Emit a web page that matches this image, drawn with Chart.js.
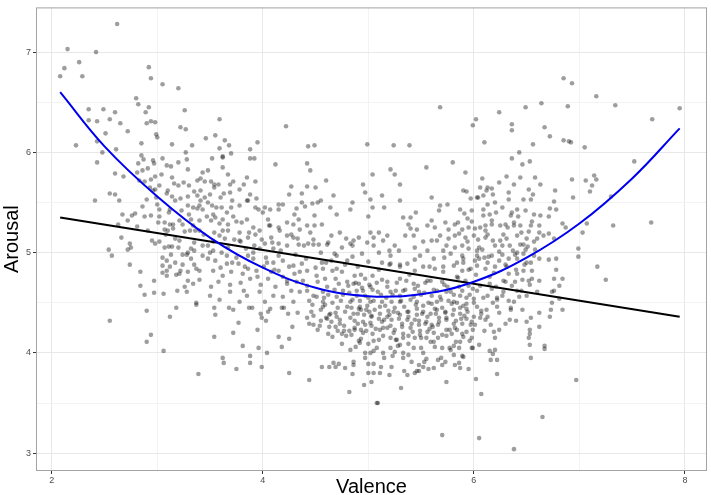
<!DOCTYPE html>
<html>
<head>
<meta charset="utf-8">
<script src="https://cdn.jsdelivr.net/npm/chart.js@4.4.0/dist/chart.umd.min.js"></script>
<style>
  html, body { margin: 0; padding: 0; background: #fff; }
  #wrap { width: 711px; height: 495px; }
</style>
</head>
<body>
<div id="wrap"><canvas id="chart" width="711" height="495"></canvas></div>
<script>
// Axis ticks (major labelled, minor only as grid lines)
const xMajor = [2, 4, 6, 8];
const xMinor = [3, 5, 7];
const yMajor = [3, 4, 5, 6, 7];
const yMinor = [3.5, 4.5, 5.5, 6.5];

// Linear fit (black) and quadratic fit (blue)
const linFitX = [2.08, 7.95];
const linFitY = [5.35, 4.36];
const quadFitX = [2.08, 2.5, 3.0, 3.5, 4.0, 4.5, 5.0, 5.5, 6.0, 6.5, 7.0, 7.5, 7.95];
const quadFitY = [6.60, 6.06, 5.56, 5.15, 4.85, 4.65, 4.565, 4.585, 4.71, 4.95, 5.29, 5.74, 6.24];

// [valence, arousal] per word
const ratings = [
[2.62,7.28],[2.15,7.03],[2.42,7.0],[2.26,6.9],[2.12,6.84],[2.08,6.76],[2.29,6.76],[2.92,6.85],[2.94,6.74],[3.05,6.68],[3.2,6.64],[2.8,6.54],[2.82,6.48],[2.92,6.45],[2.89,6.4],[3.26,6.42],[2.35,6.43],[2.49,6.43],[2.6,6.4],[2.35,6.32],[2.43,6.31],[2.55,6.33],[2.65,6.29],[2.9,6.29],[2.94,6.31],[2.98,6.3],[2.51,6.19],[2.72,6.21],[2.99,6.18],[3.0,6.15],[3.22,6.25],[3.27,6.23],[3.46,6.14],[2.23,6.07],[2.43,6.11],[2.85,6.09],[3.14,6.08],[3.33,6.07],[2.48,6.0],[2.61,6.03],[3.27,6.0],[2.85,5.97],
[3.59,6.33],[3.55,6.17],[3.64,6.12],[3.68,6.07],[3.59,6.04],[3.7,5.99],[3.88,6.03],[3.95,6.1],[4.22,6.26],[4.43,6.06],[4.49,6.07],[4.99,6.08],[3.62,5.96],
[5.68,6.45],[5.24,6.07],[5.39,6.07],[6.02,6.33],[5.99,6.27],[6.1,6.1],[6.24,6.4],[6.36,6.28],[6.36,6.22],[6.49,6.45],[6.64,6.49],[6.67,6.25],[6.56,6.08],[6.43,6.0],
[6.85,6.74],[6.93,6.69],[7.16,6.56],[6.89,6.46],[7.34,6.47],[7.69,6.33],[7.95,6.44],[6.72,6.16],[6.85,6.12],[6.9,6.11],[6.92,6.1],[7.05,6.05],
[7.52,5.91],[7.14,5.77],[7.16,5.73],[7.12,5.67],[7.06,5.72],[6.93,5.73],[7.1,5.61],[6.94,5.55],[7.3,5.56],[6.77,5.62],[6.76,5.51],[6.72,5.44],[6.78,5.43],[6.71,5.36],[6.84,5.29],[6.87,5.25],[7.07,5.29],[7.32,5.27],[7.68,5.3],[6.71,5.19],[6.76,5.14],[7.03,5.2],[6.99,5.04],[6.99,4.96],[6.71,4.93],[6.78,4.94],[7.17,4.86],[6.78,4.83],[6.76,4.74],[6.84,4.74],[7.25,4.73],[6.81,4.67],[6.76,4.62],[6.74,4.61],[6.74,4.5],[6.81,4.54],
[6.73,4.43],[6.84,4.43],[6.72,4.36],[6.97,3.73],
[2.55,4.32],[2.9,4.42],[3.18,4.45],[3.12,4.36],[2.94,4.18],[2.9,4.11],[3.06,4.02],[3.39,3.79],[3.37,4.48],
[3.54,4.45],[3.68,4.45],[3.72,4.43],[3.87,4.45],[4.07,4.44],[4.18,4.45],[3.55,4.38],[3.77,4.3],[3.98,4.39],[3.99,4.35],[4.03,4.32],[4.24,4.39],[3.95,4.23],[3.72,4.2],[3.54,4.16],[4.15,4.16],[4.25,4.14],[4.28,4.26],[3.81,4.07],[3.96,4.05],[4.18,4.06],[4.04,4.0],[3.62,3.95],[3.88,3.97],[3.63,3.9],[3.88,3.9],[3.99,3.86],[3.75,3.84],[4.25,3.8],[4.44,3.73],[4.56,3.86],[4.63,3.86],[4.67,3.9],[4.69,3.86],[4.72,3.89],[4.78,3.85],[4.86,3.91],[4.86,3.88],[4.85,3.79],[4.82,3.61],[4.96,3.68],[5.03,3.71],[5.0,3.8],[5.05,3.8],[5.0,3.89],[5.05,3.89],[4.97,3.95],[4.97,4.0],[5.02,4.0],[4.83,4.03],[4.88,4.06],[4.75,4.09],[5.08,3.5],
[4.42,4.35],[4.44,4.29],[4.48,4.37],[4.48,4.28],[4.52,4.23],[4.55,4.32],[4.57,4.46],[4.6,4.35],[4.61,4.34],[4.64,4.39],[4.69,4.4],[4.63,4.26],[4.62,4.19],[4.66,4.16],[4.69,4.26],[4.71,4.22],[4.73,4.33],[4.75,4.19],[4.79,4.17],[4.77,4.22],[4.82,4.22],[4.84,4.45],[4.87,4.32],[4.9,4.39],[4.92,4.46],[4.93,4.43],[4.93,4.23],[4.93,4.14],[4.97,4.28],[4.98,4.43],[5.01,4.41],[5.03,4.37],[5.03,4.27],[5.04,4.19],[5.0,4.09],[5.05,4.12],[4.87,4.23],[4.95,4.2],[4.91,4.12],
[5.2,3.78],[5.31,3.65],[5.09,3.5],[5.74,3.71],[6.02,3.74],[6.07,3.59],[5.7,3.18],[6.05,3.15],[6.38,3.04],[6.65,3.36],[6.22,3.79],[6.54,3.95],[6.53,4.08],[6.52,4.15],[6.53,4.23],[6.53,4.19],[6.62,4.26],[6.67,4.07],[6.67,4.04],[6.62,4.4],[6.54,4.35],[6.5,4.31],[6.46,4.43],[6.4,4.32],[6.34,4.33],[6.35,4.43],[6.3,4.29],[6.24,4.23],[6.2,4.15],[6.2,4.03],[6.16,3.93],[6.22,3.93],[6.15,4.02],[6.19,4.21],[6.16,4.28],[6.1,4.22],[6.13,4.36],[6.11,4.33],[6.07,4.39],[6.0,4.36],[6.01,4.28],[5.99,4.23],[5.96,4.12],[5.99,4.05],[5.89,3.97],[5.86,3.9],[5.82,3.88],[5.87,3.85],[5.81,3.98],[5.73,3.91],[5.69,3.95],[5.62,3.85],[5.57,3.84],[5.55,3.94],[5.53,3.91],[5.48,3.88],[5.52,3.86],[5.46,3.82],[5.44,3.8],[5.37,3.78],[5.34,3.82],[5.41,3.91],[5.33,3.95],[5.23,3.97],[5.12,3.86],[5.11,3.8],[5.08,4.05],[5.14,4.0],[5.21,4.05],[5.25,4.01],[5.33,4.0],[5.3,4.08],[5.43,4.05],[5.5,4.05],[5.55,4.15],[5.59,4.11],[5.63,4.06],[5.7,4.05],[5.77,4.05],[5.81,4.07],[5.87,4.11],[5.83,4.11],[5.9,4.16],[5.98,4.05],[5.98,4.15],[5.93,4.21],[5.89,4.19],[5.84,4.23],[5.79,4.19],[5.74,4.23],[5.7,4.18],[5.66,4.15],[5.62,4.2],[5.56,4.21],[5.49,4.18],[5.44,4.15],[5.38,4.17],[5.33,4.15],[5.27,4.13],[5.21,4.15],[5.14,4.17],[5.1,4.13],[5.11,4.23],[5.18,4.25],[5.25,4.23],[5.32,4.26],[5.4,4.25],[5.48,4.28],[5.54,4.29],[5.6,4.28],[5.67,4.31],[5.74,4.33],[5.81,4.29],[5.89,4.29],[5.93,4.34],[5.87,4.39],[5.81,4.43],[5.73,4.41],[5.65,4.43],[5.59,4.39],[5.52,4.41],[5.46,4.38],[5.38,4.41],[5.3,4.38],[5.24,4.41],[5.18,4.36],[5.11,4.39],[5.13,4.31],[5.22,4.33],[5.37,4.33],[5.44,4.33],[5.93,4.44],[6.03,4.46],[6.22,4.46],
[2.43,5.9],[2.6,5.79],[2.68,5.76],[2.41,5.52],[2.55,5.59],[2.6,5.58],[2.64,5.52],[2.82,5.89],[2.87,5.93],[2.96,5.92],[2.97,5.89],[3.05,5.94],[3.09,5.87],[3.13,5.86],[3.2,5.9],[3.28,5.93],[2.81,5.8],[2.86,5.82],[2.91,5.84],[2.83,5.72],[2.88,5.71],[2.94,5.73],[2.98,5.76],[2.93,5.65],[2.9,5.53],[2.98,5.63],[2.99,5.55],[3.02,5.67],[3.09,5.59],[3.14,5.75],[3.16,5.69],[3.22,5.54],[3.17,5.52],[3.29,5.83],[3.3,5.67],[3.35,5.61],[3.38,5.57],[3.41,5.52],[3.43,5.8],[3.41,5.74],[3.45,5.71],[3.29,5.47],[3.34,5.45],[3.4,5.47],[3.43,5.43],[3.12,5.43],[3.02,5.43],[2.67,5.38],[2.76,5.37],[2.79,5.39],[2.88,5.36],[2.94,5.37],[2.63,5.28],[2.72,5.32],[2.81,5.26],[3.02,5.36],[3.07,5.3],[3.07,5.23],[3.1,5.22],[3.12,5.28],[3.15,5.24],[3.21,5.32],[3.24,5.28],[3.34,5.27],[3.4,5.32],[3.36,5.22],[3.31,5.22],[2.66,5.15],[2.54,5.03],[2.57,4.97],[2.72,5.03],[2.75,5.05],[2.74,5.09],[2.74,4.88],[2.84,4.81],[2.98,5.09],[3.02,5.11],[3.11,5.06],[3.14,5.06],[3.21,5.12],[3.24,4.98],[3.29,5.0],[3.32,5.04],[3.35,5.1],[3.43,5.07],[3.13,4.98],[3.09,4.92],[3.05,4.87],[3.09,4.82],[3.05,4.8],[3.12,4.86],[3.17,4.9],[3.24,4.88],[3.22,4.82],[3.21,4.79],[3.29,4.81],[3.32,4.94],[3.37,4.84],[3.4,4.82],[3.43,4.97],[3.4,4.73],[3.34,4.69],[3.29,4.72],[3.09,4.77],[2.97,4.72],[2.84,4.67],[2.88,4.58],[2.97,4.6],[3.06,4.59],[3.19,4.62],[3.26,4.66],[3.28,4.61],[3.37,4.5],
[3.52,5.94],[3.62,5.95],[3.88,5.94],[3.92,5.94],[4.12,5.88],[4.42,5.89],[4.45,5.82],[5.04,5.78],[3.62,5.85],[3.51,5.71],[3.54,5.68],[3.54,5.65],[3.67,5.78],[3.72,5.71],[3.69,5.68],[3.82,5.68],[3.85,5.75],[3.93,5.71],[3.78,5.63],[3.69,5.6],[3.6,5.55],[3.48,5.5],[3.52,5.47],[3.61,5.45],[3.71,5.52],[3.78,5.47],[3.86,5.52],[3.88,5.58],[3.94,5.54],[3.93,5.45],[3.96,5.43],[4.02,5.45],[4.07,5.43],[4.15,5.43],[4.19,5.48],[4.27,5.66],[4.42,5.66],[4.5,5.65],[4.37,5.59],[4.32,5.44],[4.37,5.5],[4.47,5.49],[4.52,5.5],[4.64,5.45],[4.67,5.57],[4.83,5.43],[4.97,5.6],[5.02,5.53],[5.04,5.45],[3.53,5.38],[3.62,5.33],[3.72,5.36],[3.8,5.3],[3.85,5.33],[3.67,5.28],[3.51,5.32],[3.54,5.2],[3.67,5.22],[3.78,5.2],[3.91,5.25],[3.97,5.22],[4.05,5.33],[4.06,5.27],[4.15,5.25],[4.16,5.22],[4.08,5.15],[4.23,5.3],[4.29,5.28],[4.34,5.33],[4.35,5.23],[4.42,5.27],[4.49,5.37],[4.49,5.27],[4.56,5.28],[4.65,5.17],[4.73,5.2],[4.79,5.14],[4.83,5.09],[4.85,5.07],[4.91,5.15],[4.99,5.1],[5.02,5.2],[5.05,5.07],[4.23,5.17],[4.29,5.15],[4.23,5.07],[4.34,5.08],[4.43,5.09],[4.48,5.08],[4.53,5.08],[4.61,5.08],[4.68,4.99],[3.59,5.17],[3.64,5.14],[3.73,5.13],[3.78,5.12],[3.86,5.15],[3.92,5.07],[4.02,5.09],[3.97,5.04],[4.1,5.04],[3.48,5.07],[3.53,5.02],[3.61,5.0],[3.66,4.97],[3.66,4.89],[3.55,4.92],[3.48,4.94],[3.75,4.95],[3.77,4.89],[3.86,4.97],[3.91,4.94],[3.94,4.82],[3.86,4.84],[3.81,4.79],[3.7,4.81],[3.62,4.77],[3.53,4.82],[3.58,4.71],[3.69,4.68],[3.79,4.7],[3.88,4.74],[4.04,4.9],[4.1,4.9],[4.15,4.97],[4.08,4.81],[4.05,4.74],[4.15,4.82],[4.19,4.76],[4.29,4.87],[4.37,4.89],[4.42,4.82],[4.3,4.79],[4.23,4.69],[4.32,4.71],[4.42,4.67],[4.51,4.77],[4.57,4.84],[4.59,4.74],[4.66,4.82],[4.75,4.81],[4.72,4.69],[4.8,4.71],[4.86,4.69],[4.91,4.69],[4.87,4.77],[4.97,4.74],[5.04,4.77],[5.02,4.66],[4.95,4.62],[4.76,4.62],[4.57,4.61],[4.48,4.57],[4.35,4.61],[4.19,4.56],[4.1,4.57],[3.97,4.61],[3.85,4.57],[3.69,4.61],[3.59,4.53],[3.78,4.51],[4.02,4.51],[4.29,4.51],[4.57,4.51],[4.83,4.51],[5.02,4.51],[4.89,4.57],[4.7,4.56],[3.51,4.66],[3.5,4.57],
[6.36,5.94],[6.46,5.88],[6.53,5.91],[5.21,5.83],[5.3,5.68],[5.13,5.57],[5.92,5.8],[6.08,5.74],[6.31,5.76],[6.58,5.75],[6.38,5.68],[6.52,5.63],[6.63,5.68],[5.93,5.61],[6.06,5.65],[6.13,5.65],[6.17,5.64],[6.09,5.57],[6.18,5.58],[5.97,5.54],[6.03,5.55],[6.47,5.53],[6.54,5.53],[6.33,5.53],[6.2,5.5],[6.13,5.48],[5.68,5.47],[5.67,5.42],[5.87,5.43],[5.91,5.39],[5.94,5.34],[5.98,5.42],[6.09,5.37],[6.15,5.38],[6.09,5.43],[6.27,5.45],[6.36,5.4],[6.35,5.37],[6.41,5.43],[6.49,5.42],[6.57,5.38],[6.63,5.37],[6.62,5.27],[6.54,5.27],[6.44,5.27],[6.38,5.27],[6.3,5.28],[6.25,5.27],[6.17,5.28],[6.11,5.27],[6.06,5.25],[6.01,5.24],[5.95,5.25],[5.89,5.23],[5.82,5.28],[5.76,5.23],[5.73,5.3],[5.63,5.25],[5.6,5.32],[5.56,5.27],[5.46,5.23],[5.4,5.35],[5.33,5.35],[5.38,5.28],[5.1,5.2],[5.18,5.17],[5.35,5.17],[5.43,5.17],[5.52,5.11],[5.6,5.12],[5.68,5.17],[5.76,5.14],[5.82,5.17],[5.92,5.15],[6.0,5.17],[6.11,5.15],[6.2,5.07],[6.27,5.07],[6.31,5.14],[6.41,5.17],[6.5,5.14],[6.44,5.08],[6.57,5.11],[6.66,5.17],[5.14,5.12],[5.25,5.07],[5.44,5.05],[5.74,5.07],[5.89,5.07],[5.95,5.04],[6.03,5.02],[5.1,5.0],[5.21,4.97],[5.29,5.02],[5.37,4.89],[5.49,4.97],[5.56,5.02],[5.62,4.94],[5.71,5.02],[5.78,4.99],[5.89,4.97],[5.9,4.94],[6.03,4.97],[6.05,4.94],[6.13,4.9],[6.17,4.97],[6.24,4.92],[6.33,4.94],[6.41,4.94],[6.47,4.99],[6.54,4.9],[6.62,4.94],[6.55,4.82],[6.47,4.82],[6.41,4.79],[6.33,4.79],[6.62,4.72],[6.52,4.72],[6.39,4.71],[6.28,4.72],[6.19,4.8],[6.11,4.84],[6.03,4.87],[5.97,4.84],[5.89,4.82],[5.81,4.87],[5.71,4.86],[5.63,4.84],[5.52,4.86],[5.44,4.82],[5.3,4.86],[5.21,4.89],[5.13,4.9],[5.18,4.71],[5.3,4.74],[5.43,4.69],[5.56,4.72],[5.7,4.71],[5.84,4.76],[5.95,4.67],[6.06,4.67],[6.17,4.64],[6.28,4.61],[6.41,4.62],[6.5,4.57],[6.6,4.61],[5.21,4.61],[5.33,4.62],[5.48,4.61],[5.6,4.57],[5.74,4.61],[5.87,4.57],[6.0,4.54],[6.13,4.57],[6.22,4.53],[5.13,4.51],[5.3,4.51],[5.46,4.51],[5.65,4.51],[5.81,4.51],[5.93,4.49],[6.38,4.51],
[4.42,4.62],[4.47,4.48],[4.52,4.71],[4.55,4.43],[4.58,4.55],[4.61,4.66],[4.63,4.38],[4.66,4.5],[4.69,4.74],[4.71,4.45],[4.73,4.29],[4.76,4.58],[4.78,4.41],[4.81,4.67],[4.83,4.35],[4.85,4.53],[4.87,4.25],[4.89,4.62],[4.91,4.44],[4.93,4.78],[4.95,4.31],[4.97,4.57],[4.99,4.47],[5.01,4.68],[5.03,4.36],[5.05,4.52],[5.07,4.24],[5.09,4.61],[5.11,4.46],[5.13,4.73],[5.15,4.33],[5.17,4.55],[5.19,4.42],[4.5,4.85],[4.6,4.9],[4.7,4.84],[4.8,4.92],[4.9,4.86],[5.0,4.91],[5.1,4.83],[5.2,4.88],
[5.21,4.27],[5.23,4.58],[5.25,4.45],[5.27,4.7],[5.29,4.34],[5.31,4.52],[5.33,4.19],[5.35,4.63],[5.37,4.41],[5.39,4.78],[5.41,4.29],[5.43,4.56],[5.45,4.48],[5.47,4.67],[5.49,4.22],[5.51,4.39],[5.53,4.6],[5.55,4.31],[5.57,4.5],[5.59,4.72],[5.61,4.26],[5.63,4.44],[5.65,4.62],[5.67,4.35],[5.69,4.53],[5.71,4.81],[5.73,4.4],[5.75,4.66],[5.77,4.23],[5.79,4.49],[5.81,4.58],[5.83,4.32],[5.85,4.75],[5.87,4.45],[5.89,4.62],[5.91,4.37],[5.93,4.55],[5.95,4.83],[5.97,4.28],[5.99,4.64],[5.26,4.13],[5.38,4.09],[5.5,4.15],[5.62,4.11],[5.74,4.17],[5.86,4.05],[5.3,4.88],[5.44,4.93],[5.58,4.86],[5.72,4.95],[5.84,4.9],
[6.02,4.78],[6.05,5.05],[6.07,4.42],[6.1,4.95],[6.13,5.18],[6.15,4.69],[6.17,5.32],[6.2,4.86],[6.22,4.55],[6.25,5.12],[6.27,4.98],[6.3,4.71],[6.32,5.25],[6.35,4.45],[6.37,5.02],[6.4,4.83],[6.42,5.36],[6.45,4.62],[6.47,5.08],[6.5,4.9],[6.52,5.21],[6.55,4.74],[6.57,4.97],[6.6,5.14],[6.04,5.55],[6.12,5.62],[6.24,5.7],[6.33,5.6],[6.44,5.75],[6.56,5.58],
[3.62,5.22],[3.67,5.05],[3.71,4.9],[3.75,5.31],[3.79,5.11],[3.83,4.86],[3.87,5.2],[3.91,5.0],[3.95,4.76],[3.99,5.13],[4.03,4.95],[4.07,5.27],[4.11,4.83],[4.15,5.09],[4.19,4.92],[4.23,4.72],[4.27,5.18],[4.31,4.98],[4.35,4.81],[4.39,5.07],[3.7,5.45],[3.85,5.52],[4.0,5.4],[4.15,5.48],[4.3,5.38],[4.45,5.2],[4.55,5.0],[4.65,4.92],[4.75,5.05],[4.85,4.96],
[2.95,5.12],[3.0,5.48],[3.05,4.95],[3.1,5.62],[3.15,5.28],[3.2,5.05],[3.25,5.7],[3.3,5.38],[3.35,4.88],[3.4,5.22],[3.45,5.55],[3.5,5.0],[3.55,5.35],[3.6,4.85],[3.58,5.68],[3.48,5.82],[3.38,5.72],[3.28,4.98],[3.18,4.78],[3.08,5.18],
[4.25,5.58],[4.4,5.46],[4.55,5.52],[4.7,5.38],[4.85,5.5],[5.0,5.36],[5.15,5.45],[5.3,5.52],[5.45,5.4],[5.6,5.55],[5.75,5.48],[5.9,5.62],[4.6,5.72],[4.95,5.68],[5.25,5.78],[5.55,5.85],[5.8,5.9],[5.05,5.15],[5.2,5.02],[5.4,5.24],[5.65,5.12],[5.85,5.3],
[4.92,4.1],[5.05,4.02],[5.15,3.95],[5.28,4.07],[5.38,3.98],[5.52,4.0],[5.66,3.93],[5.78,4.03],[5.9,3.96],[6.05,4.08],[6.18,3.99],[5.22,3.86],[5.48,3.82],[5.7,3.88],[5.95,3.84],
[4.46,4.41],[4.51,4.56],[4.54,4.27],[4.59,4.48],[4.62,4.58],[4.65,4.31],[4.68,4.63],[4.7,4.36],[4.74,4.52],[4.77,4.27],[4.8,4.46],[4.82,4.6],[4.84,4.18],[4.86,4.39],[4.88,4.7],[4.9,4.29],[4.92,4.52],[4.94,4.65],[4.96,4.38],[4.98,4.22],[5.0,4.55],[5.02,4.3],[5.04,4.63],[5.06,4.43],[5.08,4.7],[5.1,4.34],[5.12,4.58],[5.14,4.25],[5.16,4.47],[5.18,4.66],[5.2,4.38],[5.22,4.51],[5.24,4.2],[5.26,4.62],[5.28,4.4],[5.3,4.57],[5.32,4.29],[5.34,4.46],[5.36,4.72],[5.38,4.36],[5.4,4.53],[5.42,4.21],[5.44,4.64],[5.46,4.44],[5.48,4.32],[5.5,4.58],[5.52,4.47],[5.54,4.7],[5.56,4.36],[5.58,4.24],[5.6,4.49],[5.62,4.63],[5.64,4.39],[5.66,4.28],[5.68,4.56],[5.7,4.45],[5.72,4.68],[5.74,4.35],[5.76,4.52],[5.78,4.61],[5.8,4.38],[5.82,4.25],[5.84,4.5],[5.86,4.66],[5.88,4.34],[5.9,4.47],[5.92,4.72],[5.94,4.41],[5.96,4.58],[5.98,4.31],[6.0,4.5],[6.03,4.62],[6.06,4.35],[6.09,4.55],[6.12,4.43],[6.15,4.76],[6.18,4.5],[6.21,4.66],[6.24,4.4],[6.27,4.57],[6.3,4.88],[6.33,4.52],[6.36,4.67],[6.39,4.98],[6.43,4.56],[6.46,4.73],[6.49,5.03],[6.53,4.68],
[5.82,5.05],[5.86,5.19],[5.9,4.9],[5.94,5.11],[5.98,5.31],[6.01,4.92],[6.04,5.13],[6.08,5.03],[6.11,5.22],[6.14,4.96],[6.18,5.12],[6.21,5.4],[6.24,5.01],[6.28,5.18],[6.31,4.86],[6.34,5.07],[6.38,5.3],[6.41,5.0],[6.45,5.2],[6.48,4.88],[6.51,5.06],[6.55,5.31],[6.58,5.03],[6.62,5.2],
[2.86,5.46],[2.91,5.22],[2.96,5.62],[3.01,5.3],[3.04,5.78],[3.07,5.05],[3.11,5.4],[3.14,5.56],[3.17,5.14],[3.2,5.67],[3.23,5.42],[3.26,5.21],[3.29,5.56],[3.32,5.33],[3.35,5.02],[3.38,5.44],[3.41,5.62],[3.44,5.18],[3.47,5.36],[3.5,5.58],[3.53,5.11],[3.56,5.45],[3.59,5.29],[3.63,5.59],[3.66,5.4],
[3.82,4.62],[3.9,4.45],[3.98,4.68],[4.05,4.41],[4.12,4.66],[4.2,4.45],[4.27,4.62],[4.33,4.4],[4.38,4.72],[4.44,4.52],[3.84,5.04],[3.93,5.18],[4.01,4.86],[4.09,5.1],[4.17,5.02],[4.25,4.86],[4.33,5.14],[4.41,4.94],[4.48,5.13],[4.56,4.9],[4.62,5.1],[4.7,4.97],[4.78,4.88],[4.86,5.12],[4.94,4.99]
];

const xTicks = [...xMajor, ...xMinor].sort((a, b) => a - b);
const yTicks = [...yMajor, ...yMinor].sort((a, b) => a - b);

// panel border like ggplot theme_bw
const panelBorder = {
    id: 'panelBorder',
    afterDatasetsDraw(chart) {
        const { ctx, chartArea: a } = chart;
        ctx.save();
        ctx.strokeStyle = '#a3a3a3';
        ctx.lineWidth = 1;
        ctx.strokeRect(a.left + 0.5, a.top + 0.5, a.right - a.left - 1, a.bottom - a.top - 1);
        ctx.restore();
    }
};

const gridColor = (major) => (c) => major.includes(c.tick.value) ? '#e8e8e8' : '#f3f3f3';
const tickColor = (major) => (c) => major.includes(c.tick.value) ? '#333333' : 'rgba(0,0,0,0)';

new Chart(document.getElementById('chart').getContext('2d'), {
    data: {
        datasets: [
            {
                type: 'line',
                label: 'quadratic',
                data: quadFitX.map((x, i) => ({ x, y: quadFitY[i] })),
                borderColor: '#0000ee',
                borderWidth: 2,
                pointRadius: 0,
                tension: 0.4,
                fill: false,
                order: 0
            },
            {
                type: 'line',
                label: 'linear',
                data: linFitX.map((x, i) => ({ x, y: linFitY[i] })),
                borderColor: '#000000',
                borderWidth: 2,
                pointRadius: 0,
                fill: false,
                order: 1
            },
            {
                type: 'scatter',
                label: 'words',
                data: ratings.map(([x, y]) => ({ x, y })),
                backgroundColor: 'rgba(0,0,0,0.38)',
                borderWidth: 0,
                pointRadius: 2.3,
                order: 2
            }
        ]
    },
    plugins: [panelBorder],
    options: {
        responsive: false,
        devicePixelRatio: 1,
        animation: false,
        layout: { padding: { top: 5, right: 2, left: 0, bottom: 0 } },
        plugins: {
            legend: { display: false },
            tooltip: { enabled: false }
        },
        scales: {
            x: {
                type: 'linear',
                min: 1.851,
                max: 8.209,
                afterBuildTicks: (s) => { s.ticks = xTicks.map(v => ({ value: v })); },
                afterFit: (s) => { s.height = 24; },
                border: { display: false },
                grid: { color: gridColor(xMajor), tickColor: tickColor(xMajor), tickLength: 3, lineWidth: 1 },
                ticks: {
                    autoSkip: false, maxRotation: 0, padding: 1,
                    color: '#4d4d4d',
                    font: { family: 'Liberation Sans', size: 9 },
                    callback: (v) => xMajor.includes(v) ? String(v) : ''
                },
                title: {
                    display: true, text: 'Valence', color: '#000',
                    font: { family: 'Liberation Sans', size: 20, lineHeight: 0.8 },
                    padding: { top: 0, bottom: 0 }
                }
            },
            y: {
                type: 'linear',
                min: 2.822,
                max: 7.446,
                afterBuildTicks: (s) => { s.ticks = yTicks.map(v => ({ value: v })); },
                afterFit: (s) => { s.width = 36; },
                border: { display: false },
                grid: { color: gridColor(yMajor), tickColor: tickColor(yMajor), tickLength: 3, lineWidth: 1 },
                ticks: {
                    autoSkip: false, padding: 2,
                    color: '#4d4d4d',
                    font: { family: 'Liberation Sans', size: 9 },
                    callback: (v) => yMajor.includes(v) ? String(v) : ''
                },
                title: {
                    display: true, text: 'Arousal', color: '#000',
                    font: { family: 'Liberation Sans', size: 20, lineHeight: 1 },
                    padding: { top: 2, bottom: 0 }
                }
            }
        }
    }
});
</script>
</body>
</html>
